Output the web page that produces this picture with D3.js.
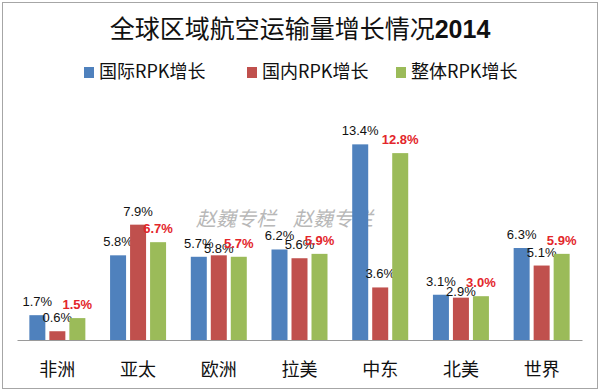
<!DOCTYPE html>
<html><head><meta charset="utf-8">
<script src="https://cdn.jsdelivr.net/npm/d3@7/dist/d3.min.js"></script>
<style>body{margin:0;background:#fff;}svg{display:block;}</style>
</head><body><svg id="c" width="600" height="391"></svg>
<script>
const categories = ["非洲","亚太","欧洲","拉美","中东","北美","世界"];
const seriesNames = ["国际RPK增长","国内RPK增长","整体RPK增长"];
const intl = [1.7,5.8,5.7,6.2,13.4,3.1,6.3];
const domestic = [0.6,7.9,5.8,5.6,3.6,2.9,5.1];
const total = [1.5,6.7,5.7,5.9,12.8,3.0,5.9];
const titleText = "全球区域航空运输量增长情况";
const titleYear = "2014";
const colors = ["#4F81BD","#C0504D","#9BBB59"];
const series = [intl, domestic, total];

const svg = d3.select("#c");
const font = "'Noto Sans CJK SC','Liberation Sans',sans-serif";
svg.append("rect").attr("x",2.5).attr("y",2.5).attr("width",595).attr("height",386)
  .attr("fill","#fff").attr("stroke","#a6a6a6").attr("stroke-width",1);

// watermarks
[236,333].forEach(cx=>{
  svg.append("text").attr("x",cx).attr("y",226).attr("text-anchor","middle")
    .attr("font-family",font).attr("font-size",20).attr("font-style","italic")
    .attr("fill","#b8b8b8").text("赵巍专栏");
});

// title
const t = svg.append("text").attr("x",300).attr("y",38).attr("text-anchor","middle")
  .attr("font-family",font).attr("font-size",25).attr("fill","#111");
t.append("tspan").text(titleText);
t.append("tspan").attr("font-weight","bold").attr("font-family","'Liberation Sans',sans-serif").text(titleYear);

// legend
const legX = [84,247,396];
seriesNames.forEach((n,i)=>{
  svg.append("rect").attr("x",legX[i]).attr("y",67).attr("width",10).attr("height",11).attr("fill",colors[i]);
  svg.append("text").attr("x",legX[i]+15).attr("y",78).attr("font-family",font)
    .attr("font-size",18).attr("fill","#111").text(n);
});

const x = d3.scaleBand().domain(categories).range([17,582]).paddingInner(0).paddingOuter(0);
const y = d3.scaleLinear().domain([0,10]).range([340,194]);
const sub = d3.scaleBand().domain([0,1,2]).range([0,56]).paddingInner(0.2);

const g = svg.append("g");
categories.forEach((c,ci)=>{
  const x0 = x(c) + (x.bandwidth()-56)/2;
  series.forEach((s,si)=>{
    const v = s[ci];
    const bx = x0 + sub(si);
    g.append("rect").attr("x",bx).attr("y",y(v)).attr("width",sub.bandwidth())
      .attr("height",y(0)-y(v)).attr("fill",colors[si]);
    let off = 9;
    if (si===1 && Math.abs(domestic[ci]-intl[ci])<0.3) off = 2;
    g.append("text").attr("x",bx+sub.bandwidth()/2).attr("y",y(v)-off)
      .attr("text-anchor","middle").attr("font-family","'Liberation Sans',sans-serif")
      .attr("font-size",13).attr("font-weight",si===2?"bold":"normal")
      .attr("fill",si===2?"#E3262B":"#111").text(v.toFixed(1)+"%");
  });
});

const axis = d3.axisBottom(x).tickSize(0).tickPadding(23);
const ax = svg.append("g").attr("transform","translate(0,340)").call(axis);
ax.select(".domain").attr("stroke","#9a9a9a");
ax.selectAll("text").attr("font-family",font).attr("font-size",18).attr("fill","#111");
</script></body></html>
